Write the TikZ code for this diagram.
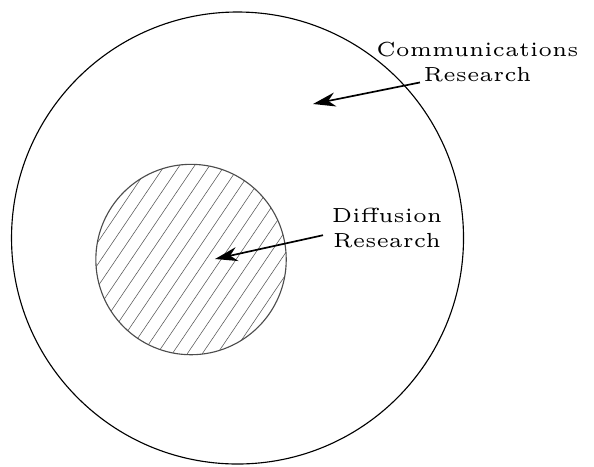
\documentclass[tikz,border=0pt]{standalone}
\usetikzlibrary{arrows.meta}
\begin{document}
\begin{tikzpicture}[thin,>={Stealth[length=8pt,width=5pt,inset=2.5pt]},
  lbl/.style={font=\tiny,scale=1.45,align=center,inner sep=0pt}]
\useasboundingbox (-2.969,-2.85) rectangle (4.456,2.975);
\coordinate (O) at (0,0); \coordinate (D) at (-0.581,-0.269);
\draw (O) circle (2.825);
% hatching of the inner disc
\begin{scope}
\clip (D) circle (1.19);
\foreach \i in {-2.25,-2.0625,...,2.3} \draw[gray!70!black,very thin] ([shift={(\i-0.88,-1.3)}]D) -- ++(1.76,2.6);
\end{scope}
\draw[gray!60!black] (D) circle (1.19);
\node[lbl] (comm) at (3.0,2.2) {Communications\\Research};
\node[lbl] (diff) at (1.869,0.125) {Dif{}fusion\\Research};
\coordinate (c1) at (0.944,1.675); \coordinate (d1) at (-0.281,-0.2625);
\draw[->,semithick] ([xshift=-0.72cm]comm.south) -- (c1);
\draw[->,semithick] ([shift={(-0.1,-0.09)}]diff.west) -- (d1);
\end{tikzpicture}
\end{document}
